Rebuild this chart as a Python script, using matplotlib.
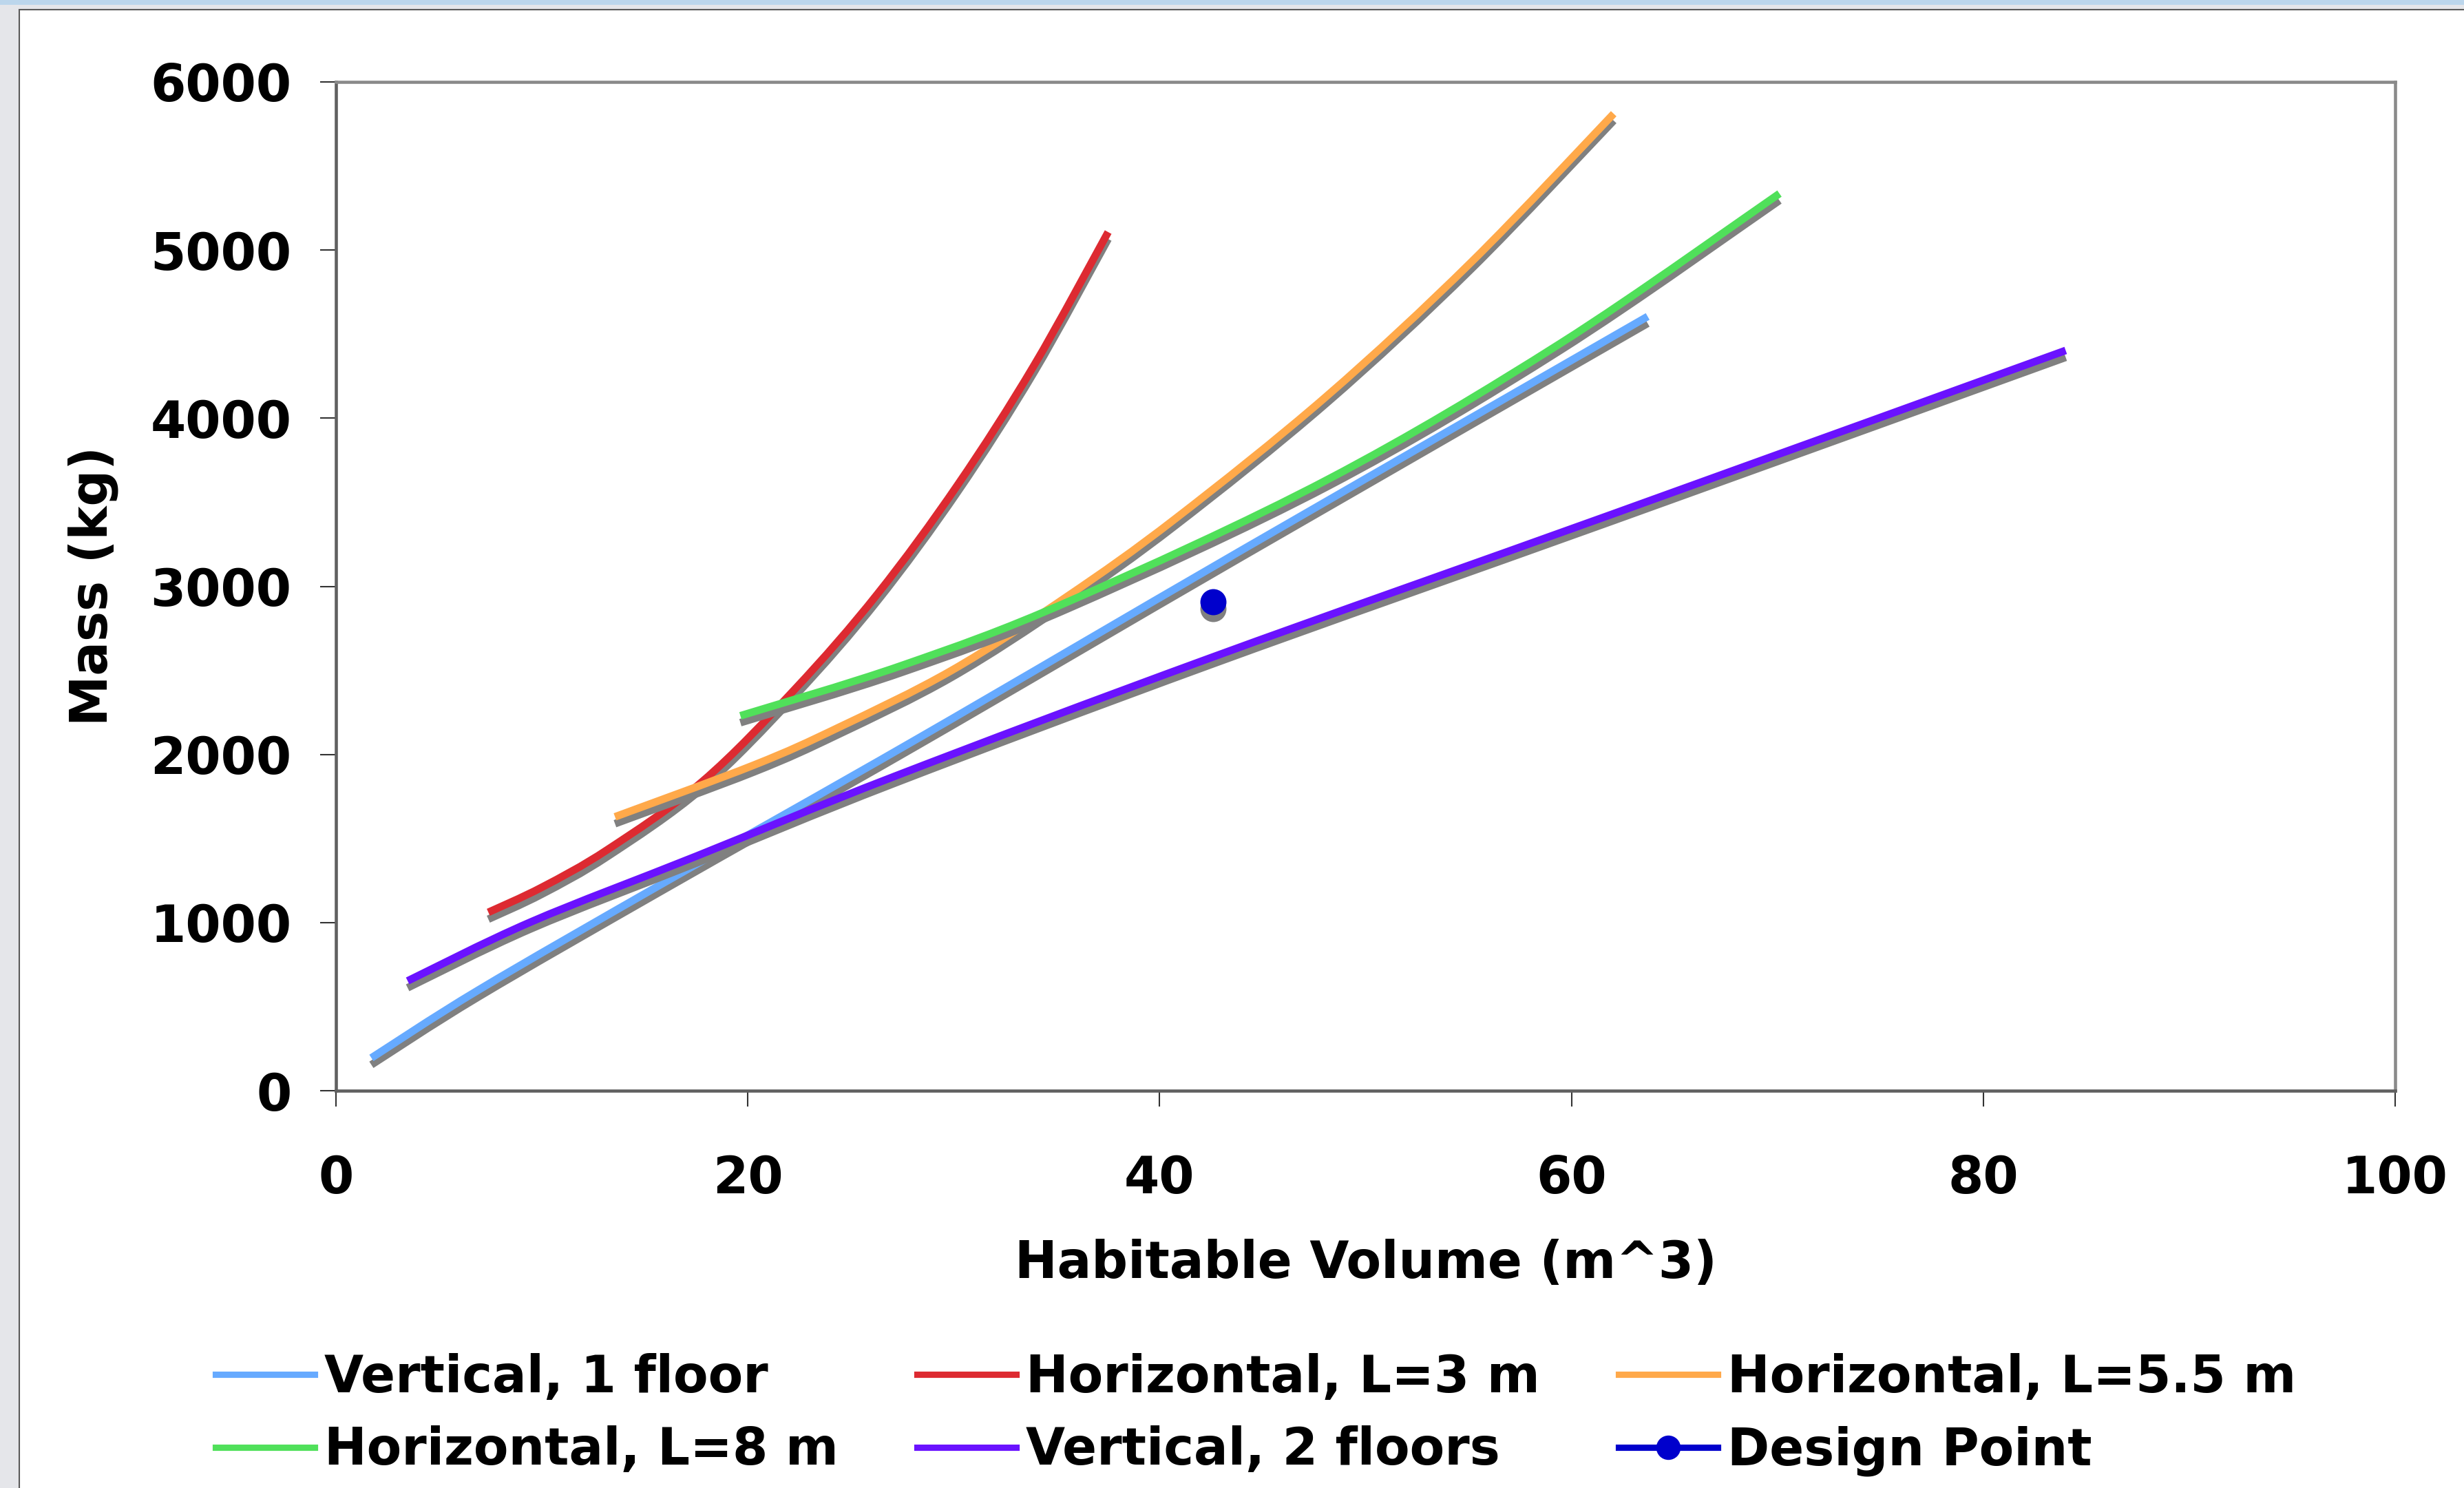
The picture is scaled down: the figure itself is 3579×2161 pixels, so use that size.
import matplotlib
matplotlib.use('Agg')
import matplotlib.pyplot as plt
from matplotlib import rcParams
from matplotlib.patches import Rectangle, PathPatch
from matplotlib.path import Path
from matplotlib.lines import Line2D
from matplotlib.transforms import ScaledTranslation

# Habitable volume (m^3) vs. mass (kg) for each habitat layout
vertical_1_floor_volume = [1.72, 6.92, 15.9, 28.2, 44.05, 63.7]
vertical_1_floor_mass = [195, 599, 1235, 2091, 3220, 4605]

horizontal_3m_volume = [7.4, 10.0, 13.2, 17.8, 22.3, 26.3, 30.2, 33.9, 37.5]
horizontal_3m_mass = [1061, 1210, 1435, 1840, 2390, 2955, 3605, 4314, 5107]

horizontal_5_5m_volume = [13.55, 20.3, 24.4, 29.9, 35.5, 40.77, 48.1, 55.14, 62.05]
horizontal_5_5m_mass = [1629, 1937, 2160, 2500, 2939, 3403, 4130, 4929, 5811]

horizontal_8m_volume = [19.64, 27.5, 35.62, 48.2, 59.5, 70.1]
horizontal_8m_mass = [2230, 2530, 2912, 3638, 4448, 5336]

vertical_2_floors_volume = [3.48, 9.45, 17.5, 27.13, 42.48, 62.0, 84.0]
vertical_2_floors_mass = [653, 1003, 1395, 1870, 2575, 3430, 4403]

design_volume = [42.6]
design_mass = [2906]

x_ticks = [0, 20, 40, 60, 80, 100]
y_ticks = [0, 1000, 2000, 3000, 4000, 5000, 6000]

W, H, DPI = 3579, 2161, 300
LW = 2.65


def set_rcparams():
    rcParams['font.family'] = ['DejaVu Sans']
    rcParams['font.weight'] = 'bold'
    rcParams['font.size'] = 17.7
    rcParams['axes.labelweight'] = 'bold'
    rcParams['axes.labelsize'] = 17.7
    rcParams['xtick.labelsize'] = 17.7
    rcParams['ytick.labelsize'] = 17.7
    rcParams['xtick.direction'] = 'out'
    rcParams['ytick.direction'] = 'out'
    rcParams['xtick.major.size'] = 5.5
    rcParams['ytick.major.size'] = 5.5
    rcParams['xtick.major.width'] = 0.5
    rcParams['ytick.major.width'] = 0.5
    rcParams['xtick.color'] = '#333333'
    rcParams['ytick.color'] = '#333333'
    rcParams['xtick.labelcolor'] = 'black'
    rcParams['ytick.labelcolor'] = 'black'


def draw_background(fig):
    # Slide backdrop: grey strip on the left, blue band on top, white chart area
    fig.patch.set_facecolor('#E5E6EA')
    fig.add_artist(Rectangle((0, 1 - 7 / H), 1, 7 / H, transform=fig.transFigure,
                             facecolor='#BCD6EC', edgecolor='none', zorder=0))
    fig.add_artist(Rectangle((28 / W, -0.01), 1.0, 1 - 13.5 / H + 0.01,
                             transform=fig.transFigure, facecolor='white',
                             edgecolor='#5A5A5A', lw=0.5, zorder=0))


def smooth_path(x, y):
    # Smoothed line through the points (cubic Bezier, Catmull-Rom style tangents)
    pts = list(zip(x, y))
    n = len(pts)
    verts = [pts[0]]
    codes = [Path.MOVETO]
    for i in range(n - 1):
        p0 = pts[max(i - 1, 0)]
        p1 = pts[i]
        p2 = pts[i + 1]
        p3 = pts[min(i + 2, n - 1)]
        c1 = (p1[0] + (p2[0] - p0[0]) / 6, p1[1] + (p2[1] - p0[1]) / 6)
        c2 = (p2[0] - (p3[0] - p1[0]) / 6, p2[1] - (p3[1] - p1[1]) / 6)
        verts += [c1, c2, p2]
        codes += [Path.CURVE4] * 3
    return Path(verts, codes)


def plot_series(ax, shadow, x, y, color, label, z):
    # Grey drop shadow first, then the coloured curve on top of it
    path = smooth_path(x, y)
    ax.add_patch(PathPatch(path, facecolor='none', edgecolor='#808080', lw=LW,
                           capstyle='butt', joinstyle='round', transform=shadow,
                           zorder=z))
    ax.add_patch(PathPatch(path, facecolor='none', edgecolor=color, lw=LW,
                           capstyle='butt', joinstyle='round', zorder=z + 0.5))
    return Line2D([], [], color=color, lw=2.2, label=label)


def main():
    set_rcparams()

    fig = plt.figure(figsize=(W / DPI, H / DPI), dpi=DPI)
    draw_background(fig)

    ax = fig.add_axes([488 / W, 1 - 1584 / H, (3479 - 488) / W, (1584 - 119) / H])
    ax.set_facecolor('white')

    shadow = ax.transData + ScaledTranslation(0, -10 / DPI, fig.dpi_scale_trans)

    v1 = plot_series(ax, shadow, vertical_1_floor_volume, vertical_1_floor_mass,
                     '#66AAFF', 'Vertical, 1 floor', 2)
    h3 = plot_series(ax, shadow, horizontal_3m_volume, horizontal_3m_mass,
                     '#DD2A31', 'Horizontal, L=3 m', 3)
    h55 = plot_series(ax, shadow, horizontal_5_5m_volume, horizontal_5_5m_mass,
                      '#FFA94A', 'Horizontal, L=5.5 m', 4)
    h8 = plot_series(ax, shadow, horizontal_8m_volume, horizontal_8m_mass,
                     '#50E05A', 'Horizontal, L=8 m', 5)
    v2 = plot_series(ax, shadow, vertical_2_floors_volume, vertical_2_floors_mass,
                     '#6A12FF', 'Vertical, 2 floors', 6)

    # Design point with its own shadow
    ax.plot(design_volume, design_mass, ls='none', marker='o', ms=9.1,
            color='#808080', mec='none', transform=shadow, zorder=7)
    ax.plot(design_volume, design_mass, ls='none', marker='o', ms=9.1,
            color='#0000CC', mec='none', zorder=7.5)
    dp = Line2D([], [], color='#0000CC', lw=2.2, marker='o', ms=8.5, mec='none',
                label='Design Point')

    ax.set_xlim(0, 100)
    ax.set_ylim(0, 6000)
    ax.set_xticks(x_ticks)
    ax.set_yticks(y_ticks)
    ax.tick_params(axis='x', pad=16.5)
    ax.tick_params(axis='y', pad=10)

    for side in ['top', 'right']:
        ax.spines[side].set_color('#8A8A8A')
        ax.spines[side].set_linewidth(1.1)
    for side in ['left', 'bottom']:
        ax.spines[side].set_color('#606060')
        ax.spines[side].set_linewidth(1.1)

    ax.set_xlabel('Habitable Volume (m^3)', va='top')
    ax.xaxis.set_label_coords(0.5, (1584 - 1799) / (1584 - 119))
    ax.set_ylabel('Mass (kg)')
    ax.yaxis.set_label_coords((172 - 488) / (3479 - 488), 0.5)

    # Legend filled column by column: 3 columns x 2 rows
    handles = [v1, h8, h3, v2, h55, dp]
    fig.legend(handles, [h.get_label() for h in handles], ncol=3,
               loc='upper left', bbox_to_anchor=(313 / W, 1 - 1965 / H),
               frameon=False, borderpad=0, borderaxespad=0,
               handlelength=1.95, handletextpad=0.19, columnspacing=1.55,
               labelspacing=0.44, numpoints=1, fontsize=17.7)

    fig.savefig('out.png', dpi=DPI, facecolor=fig.get_facecolor())


if __name__ == '__main__':
    main()
